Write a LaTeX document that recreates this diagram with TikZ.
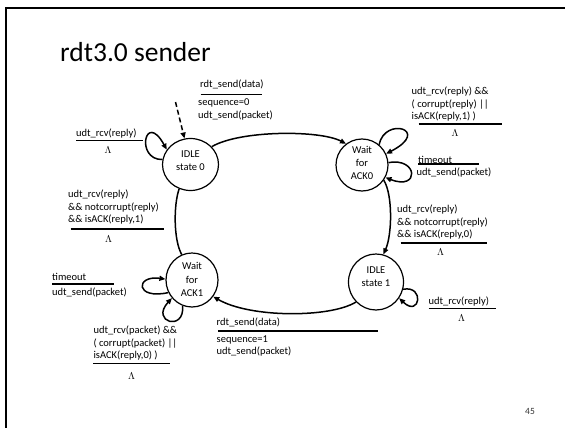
\documentclass[tikz,border=0pt]{standalone}
\usepackage{fontspec}
\setmainfont{Carlito}
\usetikzlibrary{arrows.meta,shapes.geometric}
\begin{document}
\begin{tikzpicture}[x=1pt,y=-1pt,
  state/.style={ellipse,draw,line width=1.2pt,inner sep=0pt},
  stxt/.style={font=\fontsize{10.5}{13.3}\selectfont,align=center,inner sep=0pt},
  edge/.style={line width=1.5pt,-{Triangle[length=6pt,width=5pt]}},
  plain/.style={line width=1.5pt},
  txt/.style={font=\fontsize{10.5}{12.5}\selectfont,inner sep=0pt,align=left,anchor=west},
  bar/.style={line width=1.6pt},
  lam/.style={inner sep=0pt,font=\fontsize{10}{12}\selectfont}
]
\useasboundingbox (0,0) rectangle (565,428);

% slide frame
\draw[line width=1.8pt,line join=miter] (6,430) -- (6,8) -- (567,8);

% title and page number
\node[font=\fontsize{27.5}{32}\selectfont,anchor=base west,inner sep=0pt] (title) at (60,62) {rdt3.0 sender};
\node[font=\fontsize{9.5}{11}\selectfont,inner sep=0pt,text=black!80] (pg) at (530,411) {45};

% states
\node[state,minimum width=56pt,minimum height=52pt,
  label={[stxt,yshift=4pt]center:IDLE\\state 0}] (s0) at (190.5,164.5) {};
\node[state,minimum width=52pt,minimum height=52pt,
  label={[stxt,yshift=2pt]center:Wait\\for\\ACK0}] (a0) at (362,165) {};
\node[state,minimum width=52pt,minimum height=54pt,
  label={[stxt,yshift=0.5pt]center:Wait\\for\\ACK1}] (a1) at (192,280) {};
\node[state,minimum width=55pt,minimum height=56pt,
  label={[stxt,yshift=5pt]center:IDLE\\state 1}] (s1) at (376,282) {};

% initial transition
\coordinate (init) at (175.5,102);
\draw[edge,dash pattern=on 5pt off 3pt] (init) -- (s0.103);

% transitions between states
\draw[edge] (s0.40) .. controls (240,130) and (320,130) .. (a0.127);
\draw[edge] (a0.-35) .. controls (393,195) and (392,235) .. (s1.75);
\draw[edge] (s1.225) .. controls (330,318) and (250,318) .. (a1.-38);
\draw[plain] (a1.112) .. controls (173.5,240) and (173.5,205) .. (s0.-115);

% self loops
\draw[edge] (s0.170) .. controls (135,160) and (145,110) .. (s0.148);
\draw[edge] (a0.50) .. controls (385,116) and (432,130) .. (a0.25);
\draw[edge] (a0.5) .. controls (418,157) and (420,191) .. (a0.-28);
\draw[edge] (a1.208) .. controls (135,300) and (135,275) .. (a1.178);
\draw[edge] (a1.-110) .. controls (185,332) and (150,322) .. (a1.222);
\draw[edge] (s1.-15) .. controls (425,285) and (420,318) .. (s1.-35);

% IDLE state 0 -> Wait for ACK0
\node[txt] (l1) at (200,84.5) {rdt\_send(data)};
\draw[bar] (200.5,94.5) -- (262,94.5);
\node[txt] (l1b) at (198,109.5) {sequence=0\\udt\_send(packet)};

% IDLE state 0 self loop
\node[txt] (l2) at (76,134) {udt\_rcv(reply)};
\draw[bar] (76,140.5) -- (143,140.5);
\node[lam] (l2l) at (108,150.5) {$\Lambda$};

% Wait for ACK1 -> IDLE state 0
\node[txt] (l3) at (68,207.5) {udt\_rcv(reply)\\\&\& notcorrupt(reply)\\\&\& isACK(reply,1)};
\draw[bar] (70.5,229) -- (164,229);
\node[lam] (l3l) at (108.5,239) {$\Lambda$};

% Wait for ACK0 self loops
\node[txt] (l4) at (411.5,104.5) {udt\_rcv(reply) \&\&\\( corrupt(reply) ||\\isACK(reply,1) )};
\draw[bar] (418.5,124) -- (502,124);
\node[lam] (l4l) at (455,133.5) {$\Lambda$};
\node[txt] (l5) at (418,159.5) {timeout};
\draw[bar] (418,164) -- (478.5,164);
\node[txt] (l5b) at (416.5,173) {udt\_send(packet)};

% Wait for ACK0 -> IDLE state 1
\node[txt] (l6) at (397,222.5) {udt\_rcv(reply)\\\&\& notcorrupt(reply)\\\&\& isACK(reply,0)};
\draw[bar] (400.5,243) -- (487,243);
\node[lam] (l6l) at (440.5,252) {$\Lambda$};

% IDLE state 1 self loop
\node[txt] (l7) at (428.5,301.5) {udt\_rcv(reply)};
\draw[bar] (428.5,308.5) -- (496,308.5);
\node[lam] (l7l) at (461.5,318.5) {$\Lambda$};

% IDLE state 1 -> Wait for ACK1
\node[txt] (l8) at (216.5,322.5) {rdt\_send(data)};
\draw[bar] (218,331) -- (378,331);
\node[txt] (l8b) at (216.5,346) {sequence=1\\udt\_send(packet)};

% Wait for ACK1 self loops
\node[txt] (l9) at (52,276.5) {timeout};
\draw[bar] (52,284) -- (113.5,284);
\node[txt] (l9b) at (52,293) {udt\_send(packet)};
\node[txt] (l10) at (93.3,343.3) {udt\_rcv(packet) \&\&\\( corrupt(packet) ||\\isACK(reply,0) )};
\draw[bar] (93.3,363.5) -- (169.5,363.5);
\node[lam] (l10l) at (131.5,376.5) {$\Lambda$};
\end{tikzpicture}
\end{document}
